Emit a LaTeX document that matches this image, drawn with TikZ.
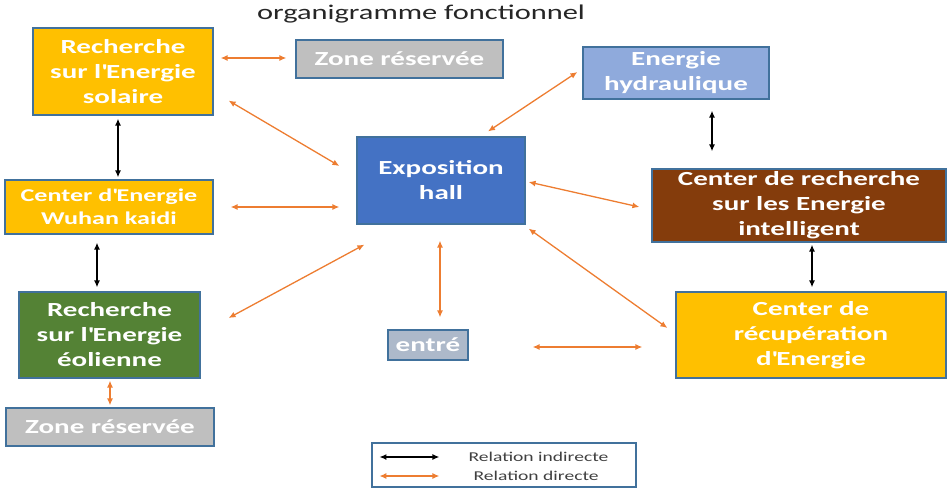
\documentclass[tikz,border=0pt]{standalone}
\usepackage{fontspec}
\setmainfont{Carlito}[FakeStretch=1.45]
\usetikzlibrary{positioning,arrows.meta}

\definecolor{gold}{HTML}{FFC000}
\definecolor{zonegray}{HTML}{BFBFBF}
\definecolor{hydblue}{HTML}{8FAADC}
\definecolor{expoblue}{HTML}{4472C4}
\definecolor{brownbox}{HTML}{843C0C}
\definecolor{eolgreen}{HTML}{548235}
\definecolor{entregray}{HTML}{ADB9CA}
\definecolor{edgeblue}{HTML}{41719C}
\definecolor{dirorange}{HTML}{ED7D31}

\newcommand{\ap}{\textquotesingle}

\begin{document}
\begin{tikzpicture}[x=1pt, y=-1pt, >={Latex[length=7pt,width=6pt]}]
  \tikzstyle{box}=[draw=edgeblue, line width=1.2pt, text=white, align=center,
                   inner sep=2pt, font=\bfseries\fontsize{20}{25}\selectfont]
  \tikzstyle{ind}=[<->, line width=1.5pt, black]
  \tikzstyle{dir}=[<->, line width=1.3pt, dirorange]
  \useasboundingbox (0,0) rectangle (949,489);

  \node[font=\fontsize{21}{24}\selectfont, text=black!85] (titre) at (421,14)
       {organigramme fonctionnel};

  % ================= colonne gauche =============
  \node[box, fill=gold, minimum width=180pt, minimum height=87pt] (sol) at (123,71.5)
       {Recherche\\sur l\ap Energie\\solaire};
  \node[box, fill=gold, minimum width=208pt, minimum height=54pt,
        font=\bfseries\fontsize{18}{23}\selectfont] (wuh) at (109,207)
       {Center d\ap Energie\\Wuhan kaidi};
  \node[box, fill=eolgreen, minimum width=181pt, minimum height=86pt] (eol) at (109.5,335)
       {Recherche\\sur l\ap Energie\\éolienne};
  \node[box, fill=zonegray, minimum width=208pt, minimum height=38pt] (zb) at (110,427)
       {Zone réservée};

  % ================= centre =============
  \node[box, fill=zonegray, minimum width=207pt, minimum height=38pt] (za) at (399.5,59)
       {Zone réservée};
  \node[box, fill=expoblue, minimum width=168pt, minimum height=87pt] (expo) at (441,180.5)
       {Exposition\\hall};
  \node[box, fill=entregray, minimum width=80pt, minimum height=30pt] (ent) at (428,345)
       {entré};

  % ================= colonne droite =============
  \node[box, fill=hydblue, minimum width=186pt, minimum height=52pt] (hyd) at (676,73)
       {Energie\\hydraulique};
  \node[box, fill=brownbox, minimum width=294pt, minimum height=73pt] (intel) at (799,205.5)
       {Center de recherche\\sur les Energie\\intelligent};
  \node[box, fill=gold, minimum width=270pt, minimum height=86pt] (recup) at (811,335)
       {Center de\\récupération\\d\ap Energie};

  % relations indirectes
  \draw[ind] ([shift={(-5,3)}]sol.south) -- ([shift={(9,-2)}]wuh.north);
  \draw[ind] ([shift={(-12,8)}]wuh.south) -- ([shift={(-12.5,-4)}]eol.north);
  \draw[ind] ([shift={(36,11)}]hyd.south) -- ([shift={(-87,-17)}]intel.north);
  \draw[ind] ([shift={(13,2)}]intel.south) -- ([shift={(1,-4)}]recup.north);

  % relations directes
  \draw[dir] ([shift={(7,-13.5)}]sol.east) -- ([shift={(-9,-1)}]za.west);
  \draw[dir] ([shift={(15,-15)}]sol.south east) -- ([shift={(-17,-14.5)}]expo.west);
  \draw[dir] ([shift={(47,-5)}]expo.north) -- ([shift={(-5,-1)}]hyd.west);
  \draw[dir] ([shift={(17,0)}]wuh.east) -- ([shift={(-17,26.5)}]expo.west);
  \draw[dir] ([shift={(3,1.5)}]expo.east) -- ([shift={(-12,1.5)}]intel.west);
  \draw[dir] ([shift={(28,-17)}]eol.east) -- ([shift={(8,20)}]expo.south west);
  \draw[dir] ([shift={(-1,16)}]expo.south) -- ([shift={(12,-12)}]ent.north);
  \draw[dir] ([shift={(64,2)}]ent.east) -- ([shift={(-33,12)}]recup.west);
  \draw[dir] ([shift={(3,4)}]expo.south east) -- ([shift={(-8,-7)}]recup.west);
  \draw[dir] ([shift={(0.5,2)}]eol.south) -- ([shift={(0,-2)}]zb.north);

  % ================= legende =============
  \node[draw=edgeblue, line width=1.2pt, minimum width=264pt, minimum height=44pt] (leg) at (504,465) {};
  \node[anchor=west, font=\fontsize{13.5}{16}\selectfont, text=black!75] (li) at (465,457)
       {Relation indirecte};
  \node[anchor=west, font=\fontsize{13.5}{16}\selectfont, text=black!75] (ld) at (470,476)
       {Relation directe};
  \draw[ind] ([shift={(8,-8)}]leg.west) -- ([shift={(68,-8)}]leg.west);
  \draw[dir] ([shift={(8,11)}]leg.west) -- ([shift={(68,11)}]leg.west);
\end{tikzpicture}
\end{document}
